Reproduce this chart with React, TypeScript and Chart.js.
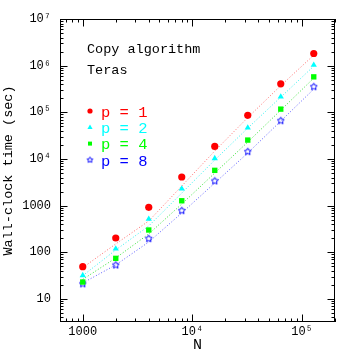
import React, { useEffect, useRef } from 'react';
import { Chart, registerables } from 'chart.js';

Chart.register(...registerables);

// ---- data ----
const N = [1000, 2000, 4000, 8000, 16000, 32000, 64000, 128000];
const procLabels = ['p = 1', 'p = 2', 'p = 4', 'p = 8'];
const timeP1 = [49, 202, 919, 4100, 18600, 86000, 407000, 1820000];
const timeP2 = [32, 119, 516, 2300, 10300, 46600, 215000, 1030000];
const timeP4 = [23, 74, 300, 1270, 5700, 25400, 117000, 575000];
const timeP8 = [21, 53, 195, 778, 3360, 14300, 65800, 352000];
const fitP1 = [46.8, 151, 468, 2630, 14800, 77000, 373000, 1680000];
const fitP2 = [31.5, 112, 366, 1860, 9470, 45900, 211000, 976000];
const fitP4 = [26.2, 75.5, 247, 1080, 4990, 23000, 111000, 540000];
const fitP8 = [22, 53.5, 166, 695, 3050, 13400, 64800, 314000];
const xTickValues = [1000, 10000, 100000];
const xTickLabels = ['1000', '10⁴', '10⁵'];
const yTickValues = [10, 100, 1000, 1e4, 1e5, 1e6, 1e7];
const yTickLabels = ['10', '100', '1000', '10⁴', '10⁵', '10⁶', '10⁷'];
const annotationLines = ['Copy algorithm', 'Teras'];
const xTitle = 'N';
const yTitle = 'Wall-clock time (sec)';

const FONT = '"Liberation Mono", "DejaVu Sans Mono", monospace';

function makeStar(r: number, color: string): HTMLCanvasElement {
  const c = document.createElement('canvas');
  const size = Math.ceil(2 * r + 3);
  c.width = size;
  c.height = size;
  const ctx = c.getContext('2d')!;
  const cx = size / 2;
  const cy = size / 2;
  ctx.strokeStyle = color;
  ctx.lineWidth = 1;
  ctx.beginPath();
  for (let i = 0; i < 10; i++) {
    const rr = i % 2 === 0 ? r : r * 0.5;
    const a = -Math.PI / 2 + (i * Math.PI) / 5;
    const x = cx + rr * Math.cos(a);
    const y = cy + rr * Math.sin(a);
    if (i === 0) ctx.moveTo(x, y);
    else ctx.lineTo(x, y);
  }
  ctx.closePath();
  ctx.stroke();
  return c;
}

export default function App() {
  const ref = useRef<HTMLCanvasElement>(null);

  useEffect(() => {
    const canvas = ref.current!;
    const starBig = makeStar(3.7, '#0000ff');
    const starSmall = makeStar(3.0, '#0000ff');

    const series = [
      { label: procLabels[0], pts: timeP1, fit: fitP1, color: '#ff0000', lineColor: '#ff6a6a', style: 'circle', radius: 3.6 },
      { label: procLabels[1], pts: timeP2, fit: fitP2, color: '#00ffff', lineColor: '#30f0f0', style: 'triangle', radius: 3.6 },
      { label: procLabels[2], pts: timeP4, fit: fitP4, color: '#00ff00', lineColor: '#30e030', style: 'rect', radius: 3.8 },
      { label: procLabels[3], pts: timeP8, fit: fitP8, color: '#0000ff', lineColor: '#5a5aff', style: 'star', radius: 4 },
    ];

    const datasets: any[] = [];
    series.forEach((s) => {
      datasets.push({
        label: 'fit ' + s.label,
        data: N.map((n, i) => ({ x: n, y: s.fit[i] })),
        borderColor: s.lineColor,
        borderWidth: 1,
        borderDash: [1, 2],
        pointRadius: 0,
        fill: false,
        tension: 0,
        order: 2,
      });
      datasets.push({
        label: s.label,
        data: N.map((n, i) => ({ x: n, y: s.pts[i] })),
        showLine: false,
        pointStyle: s.style === 'star' ? starBig : s.style,
        pointRadius: s.radius,
        pointBackgroundColor: s.color,
        pointBorderColor: s.color,
        pointBorderWidth: 0,
        order: 1,
      });
    });

    const framePlugin = {
      id: 'frame',
      afterDraw(chart: any) {
        const ctx = chart.ctx as CanvasRenderingContext2D;
        const { left, right, top, bottom } = chart.chartArea;
        const xs = chart.scales.x;
        const ys = chart.scales.y;
        ctx.save();
        ctx.strokeStyle = '#000';
        ctx.lineWidth = 1;
        ctx.strokeRect(left + 0.5, top + 0.5, right - left - 1, bottom - top - 1);
        const major = 7.5;
        const minor = 3.5;
        const drawAxisTicks = (scale: any, horizontal: boolean) => {
          const lo = Math.floor(Math.log10(scale.min));
          const hi = Math.ceil(Math.log10(scale.max));
          for (let d = lo; d <= hi; d++) {
            for (let k = 1; k <= 9; k++) {
              const v = k * Math.pow(10, d);
              if (v < scale.min || v > scale.max) continue;
              const len = k === 1 ? major : minor;
              const p = Math.round(scale.getPixelForValue(v)) + 0.5;
              ctx.beginPath();
              if (horizontal) {
                ctx.moveTo(p, bottom);
                ctx.lineTo(p, bottom - len);
                ctx.moveTo(p, top);
                ctx.lineTo(p, top + len);
              } else {
                ctx.moveTo(left, p);
                ctx.lineTo(left + len, p);
                ctx.moveTo(right, p);
                ctx.lineTo(right - len, p);
              }
              ctx.stroke();
            }
          }
        };
        drawAxisTicks(xs, true);
        drawAxisTicks(ys, false);

        // annotation text
        ctx.fillStyle = '#000';
        ctx.font = '13.5px ' + FONT;
        ctx.textBaseline = 'alphabetic';
        ctx.textAlign = 'left';
        ctx.fillText(annotationLines[0], 87, 52.5);
        ctx.fillText(annotationLines[1], 87, 73.5);

        // legend
        const rows = [111, 127.3, 143.6, 160];
        series.forEach((s, i) => {
          const mx = 90;
          const my = rows[i];
          ctx.fillStyle = s.color;
          ctx.beginPath();
          if (s.style === 'circle') {
            ctx.arc(mx, my, 2.6, 0, Math.PI * 2);
            ctx.fill();
          } else if (s.style === 'triangle') {
            ctx.moveTo(mx, my - 2.8);
            ctx.lineTo(mx + 2.6, my + 1.6);
            ctx.lineTo(mx - 2.6, my + 1.6);
            ctx.closePath();
            ctx.fill();
          } else if (s.style === 'rect') {
            ctx.fillRect(mx - 2, my - 2, 4, 4);
          } else {
            ctx.drawImage(starSmall, mx - starSmall.width / 2, my - starSmall.height / 2);
          }
          ctx.fillStyle = s.color;
          ctx.font = '15.5px ' + FONT;
          ctx.fillText(s.label, 101, my + 5.5);
        });
        ctx.restore();
      },
    };

    const chart = new Chart(canvas, {
      type: 'line',
      data: { datasets },
      options: {
        animation: false,
        responsive: false,
        devicePixelRatio: 1,
        layout: { padding: { top: 19, right: 19, left: 0, bottom: 0 } },
        plugins: {
          legend: { display: false },
          tooltip: { enabled: false },
        },
        scales: {
          x: {
            type: 'logarithmic',
            min: 620,
            max: 200000,
            afterBuildTicks: (s: any) => {
              s.ticks = xTickValues.map((v) => ({ value: v }));
            },
            afterFit: (s: any) => {
              s.height = 32;
            },
            ticks: {
              autoSkip: false,
              maxRotation: 0,
              padding: 3,
              color: '#000',
              font: { family: FONT, size: 12 },
              callback: (v: any) => {
                const i = xTickValues.indexOf(Number(v));
                return i >= 0 ? xTickLabels[i] : '';
              },
            },
            grid: { display: false, drawTicks: false },
            border: { display: false },
            title: {
              display: true,
              text: xTitle,
              color: '#000',
              font: { family: FONT, size: 15 },
              padding: { top: -2.5, bottom: 0 },
            },
          },
          y: {
            type: 'logarithmic',
            min: 3.2,
            max: 1e7,
            afterBuildTicks: (s: any) => {
              s.ticks = yTickValues.map((v) => ({ value: v }));
            },
            afterFit: (s: any) => {
              s.width = 60;
            },
            ticks: {
              autoSkip: false,
              padding: 9,
              color: '#000',
              font: { family: FONT, size: 12 },
              callback: (v: any) => {
                const i = yTickValues.indexOf(Number(v));
                return i >= 0 ? yTickLabels[i] : '';
              },
            },
            grid: { display: false, drawTicks: false },
            border: { display: false },
            title: {
              display: true,
              text: yTitle,
              color: '#000',
              font: { family: FONT, size: 13.5 },
              padding: { top: 0, bottom: 0 },
            },
          },
        },
      },
      plugins: [framePlugin],
    } as any);

    return () => chart.destroy();
  }, []);

  return (
    <div style={{ position: 'fixed', left: 0, top: 0, width: 354, height: 354, background: '#fff' }}>
      <canvas ref={ref} width={354} height={354} style={{ display: 'block', width: 354, height: 354 }} />
    </div>
  );
}
